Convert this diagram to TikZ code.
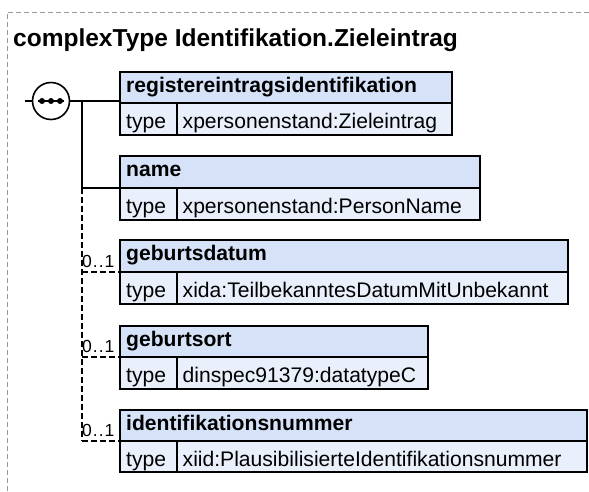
\documentclass[tikz,border=0pt]{standalone}
\usepackage{fontspec}
\setmainfont{Liberation Sans}
\definecolor{hdr}{HTML}{D6E2F8}
\definecolor{row}{HTML}{E9F0FC}
\definecolor{frame}{HTML}{999999}
\begin{document}
\begin{tikzpicture}[x=1pt,y=-1pt,
  boxline/.style={draw=black,line width=1.6pt},
  hdrtext/.style={anchor=base west,inner sep=0pt,font=\fontsize{21.1}{24}\selectfont\bfseries},
  rowtext/.style={anchor=base west,inner sep=0pt,font=\fontsize{21.1}{24}\selectfont},
  conn/.style={draw=black,line width=1.6pt},
  optconn/.style={draw=black,line width=1.6pt,dash pattern=on 6pt off 3pt},
  occ/.style={anchor=base west,inner sep=0pt,font=\fontsize{17.5}{20}\selectfont}]
\useasboundingbox (0,0) rectangle (589,491);
\fill[white] (0,0) rectangle (589,491);
% frame
\draw[frame,line width=0.8pt,dash pattern=on 5pt off 3pt] (7,491) -- (7,12) -- (589,12);
\node[anchor=base west,inner sep=0pt,font=\fontsize{24.5}{28}\selectfont\bfseries] (title) at (13,46.5) {complexType Identifikation.Zieleintrag};
% compositor
\node[circle,draw=black,line width=1.6pt,fill=white,minimum size=37pt,inner sep=0pt] (seq) at (51,101) {};
\coordinate (in) at (25,101);
\draw[conn] (in) -- (seq.west);
\foreach \dx in {-9,0,9} \fill (51+\dx,101) circle (3pt);
\draw[line width=1.6pt] (38,101) -- (64,101);
\coordinate (j) at (82,101);
\coordinate (j2) at (82,188);
\coordinate (j3) at (82,272);
\coordinate (j4) at (82,357);
\coordinate (j5) at (82,441);
% boxes: #1 top, #2 divider y, #3 bottom, #4 right
\newcommand{\xbox}[7]{%
  \fill[hdr] (120,#1) rectangle (#4,#2);
  \fill[row] (120,#2) rectangle (#4,#3);
  \draw[boxline] (120,#1) rectangle (#4,#3);
  \draw[boxline] (120,#2) -- (#4,#2);
  \draw[boxline] (177,#2) -- (177,#3);
  \node[hdrtext] (#5) at (126,#1+20) {#6};
  \node[rowtext] (#5t) at (126,#2+25) {type};
  \node[rowtext] (#5v) at (182.5,#2+25) {#7};
}
\xbox{72}{103}{135}{452}{b1}{registereintragsidentifikation}{xpersonenstand:Zieleintrag}
\xbox{156}{188}{220}{480}{b2}{name}{xpersonenstand:PersonName}
\xbox{240}{272}{304}{568}{b3}{geburtsdatum}{xida:TeilbekanntesDatumMitUnbekannt}
\xbox{326}{357}{389}{428}{b4}{geburtsort}{dinspec91379:datatypeC}
\xbox{410}{441}{472}{587}{b5}{identifikationsnummer}{xiid:PlausibilisierteIdentifikationsnummer}
% connectors
\coordinate (e1) at (120,101);
\coordinate (e2) at (120,188);
\coordinate (e3) at (120,272);
\coordinate (e4) at (120,357);
\coordinate (e5) at (120,441);
\draw[conn] (seq.east) -- (e1);
\draw[conn] (j) -- (j2) -- (e2);
\draw[optconn] (j2) -- (j5);
\draw[optconn] (j3) -- (e3);
\draw[optconn] (j4) -- (e4);
\draw[optconn] (j5) -- (e5);
\node[occ] (o3) at (82,267.5) {0\kern1pt.\kern1pt.\kern1pt1};
\node[occ] (o4) at (82,352.5) {0\kern1pt.\kern1pt.\kern1pt1};
\node[occ] (o5) at (82,436.5) {0\kern1pt.\kern1pt.\kern1pt1};
\end{tikzpicture}
\end{document}
